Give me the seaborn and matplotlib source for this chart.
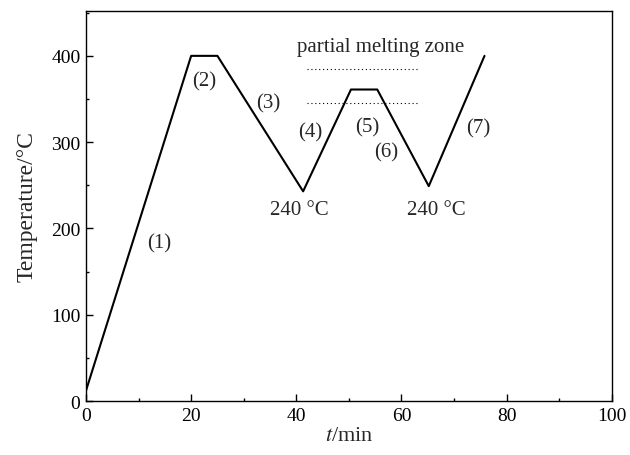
import matplotlib
matplotlib.use("Agg")
import matplotlib.pyplot as plt
import seaborn as sns
import pandas as pd
from matplotlib.ticker import MultipleLocator

# Data
time_min = [0, 20, 25, 41.3, 50.4, 55.4, 65.2, 75.8]
temperature = [12, 400, 400, 243, 361, 361, 249, 400]

zone_t = [42, 63]
zone_upper = [385, 385]
zone_lower = [345, 345]

stage_labels = ["(1)", "(2)", "(3)", "(4)", "(5)", "(6)", "(7)"]
stage_t = [13.9, 22.5, 34.7, 42.7, 53.5, 57.1, 74.7]
stage_T = [183, 371, 346, 312, 318, 289, 317]

min_labels = ["240 °C", "240 °C"]
min_t = [40.5, 66.6]
min_T = [222, 222]

sns.set_style("ticks")
plt.rcParams['font.family'] = ['Liberation Serif', 'DejaVu Serif']
plt.rcParams['mathtext.fontset'] = 'stix'

fig = plt.figure(figsize=(6.3, 4.56), dpi=100)
ax = fig.add_axes([0.1365, 0.1184, 0.8345, 0.8553])

df = pd.DataFrame({"t": time_min, "T": temperature})
sns.lineplot(data=df, x="t", y="T", sort=False, color="black", linewidth=1.5, ax=ax)

zdf = pd.DataFrame({"t": zone_t + zone_t, "T": zone_upper + zone_lower,
                    "g": ["u", "u", "l", "l"]})
sns.lineplot(data=zdf, x="t", y="T", units="g", estimator=None, color="black",
             linewidth=0.8, linestyle=(0, (1, 2.5)), ax=ax)

for lab, x, y in zip(stage_labels, stage_t, stage_T):
    ax.text(x, y, lab, ha="center", va="center", fontsize=15)
for lab, x, y in zip(min_labels, min_t, min_T):
    ax.text(x, y, lab, ha="center", va="center", fontsize=15)
ax.text(56, 411, "partial melting zone", ha="center", va="center", fontsize=15)

ax.set_xlim(0, 100)
ax.set_ylim(0, 452)
ax.xaxis.set_major_locator(MultipleLocator(20))
ax.xaxis.set_minor_locator(MultipleLocator(10))
ax.yaxis.set_major_locator(MultipleLocator(100))
ax.yaxis.set_minor_locator(MultipleLocator(50))
ax.tick_params(which="both", direction="in", labelsize=14, colors="black", width=1, pad=4)
ax.tick_params(which="major", length=5)
ax.tick_params(which="minor", length=2.5)
for s in ax.spines.values():
    s.set_linewidth(1)
    s.set_color("black")

ax.set_xlabel(r"$\it{t}$/min", fontsize=16, labelpad=2)
ax.set_ylabel("Temperature/°C", fontsize=17, labelpad=10)

fig.savefig("out.png", dpi=100)
